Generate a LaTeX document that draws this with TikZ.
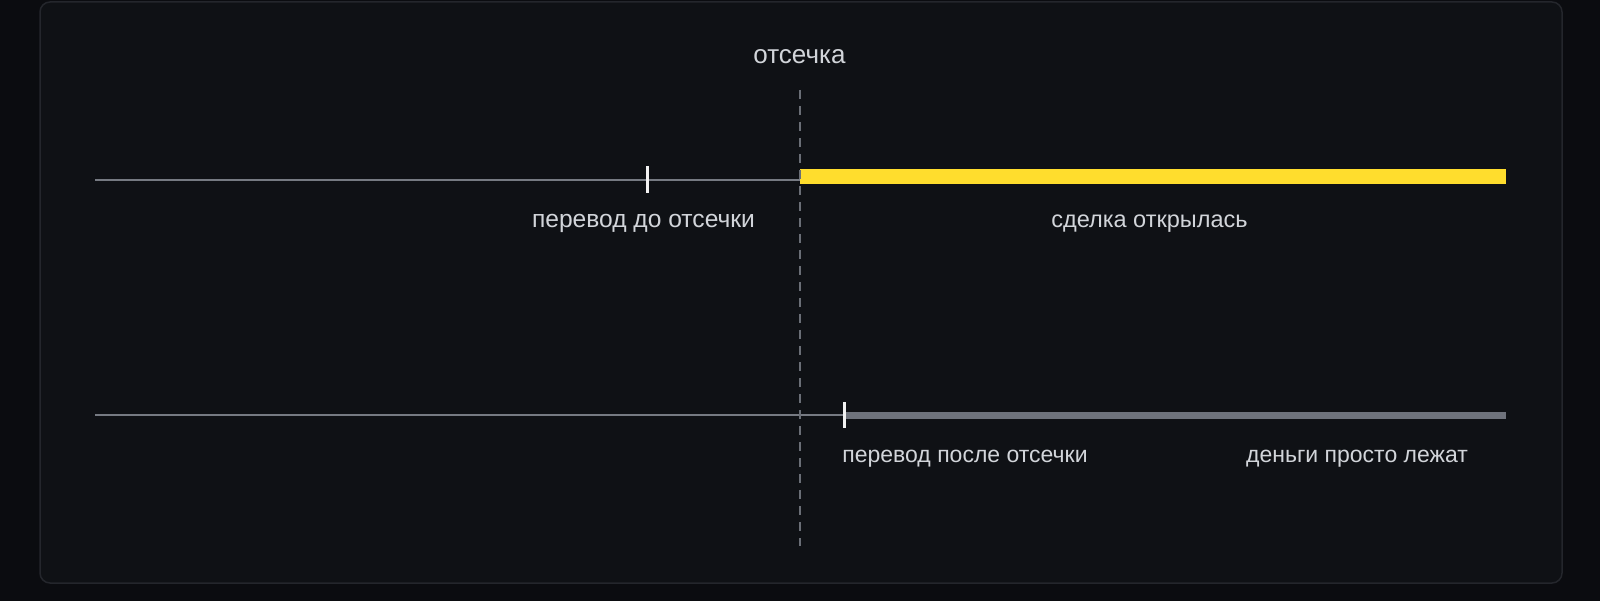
\documentclass[tikz,border=0pt]{standalone}
\usepackage{fontspec}
\setmainfont{Liberation Sans}
\definecolor{outerbg}{HTML}{0B0C10}
\definecolor{panelbg}{HTML}{0F1115}
\definecolor{panelborder}{HTML}{24262C}
\definecolor{txt}{HTML}{D2D5DA}
\definecolor{thin}{HTML}{767A82}
\definecolor{thickgray}{HTML}{6F737C}
\definecolor{dealyellow}{HTML}{FFDD2D}
\definecolor{tickc}{HTML}{F2F2F2}
\definecolor{dashc}{HTML}{6A6E76}
\tikzset{
  lbl/.style={anchor=base, text=txt, inner sep=0pt, font=\fontsize{24}{28}\selectfont},
  thinline/.style={draw=thin, line width=2pt},
  dealbar/.style={draw=dealyellow, line width=15pt},
  idlebar/.style={draw=thickgray, line width=7pt},
  tickmark/.style={draw=tickc, line width=3pt},
  cutline/.style={draw=dashc, line width=1.8pt, dash pattern=on 9pt off 7pt}
}
\begin{document}
\begin{tikzpicture}[x=1pt,y=-1pt]
  \fill[outerbg] (0,0) rectangle (1600,601);
  \useasboundingbox (0,0) rectangle (1600,601);
  \draw[panelborder, fill=panelbg, line width=1.5pt, rounded corners=10pt] (40,2) rectangle (1562,583);

  % coordinates
  \coordinate (cuttop) at (800,90);
  \coordinate (cutbot) at (800,546);
  \coordinate (l1start) at (95,180);
  \coordinate (l1cut) at (800,180);
  \coordinate (l1end) at (1506,176.7);
  \coordinate (l1cutbar) at (800,176.7);
  \coordinate (l2start) at (95,415);
  \coordinate (l2tick) at (844,415);
  \coordinate (l2end) at (1506,415.5);
  \coordinate (l2tickbar) at (844,415.5);
  \coordinate (t1a) at (647,166);
  \coordinate (t1b) at (647,193);
  \coordinate (t2a) at (844,402);
  \coordinate (t2b) at (844,428);

  % top timeline
  \draw[thinline] (l1start) -- (l1cut);
  \draw[dealbar] (l1cutbar) -- (l1end);
  \draw[tickmark] (t1a) -- (t1b);

  % bottom timeline
  \draw[thinline] (l2start) -- (l2tick);
  \draw[idlebar] (l2tickbar) -- (l2end);
  \draw[tickmark] (t2a) -- (t2b);

  % cutoff
  \draw[cutline] (cuttop) -- (cutbot);

  % labels
  \node[lbl, font=\fontsize{26}{30}\selectfont] (cut) at (799.5,63.5) {отсечка};
  \node[lbl, font=\fontsize{24.6}{28}\selectfont] (before) at (643.5,227.3) {перевод до отсечки};
  \node[lbl, font=\fontsize{23.5}{28}\selectfont] (deal) at (1149.5,227.3) {сделка открылась};
  \node[lbl, font=\fontsize{23}{28}\selectfont] (after) at (965,462) {перевод после отсечки};
  \node[lbl, font=\fontsize{23}{28}\selectfont] (idle) at (1357,462) {деньги просто лежат};
\end{tikzpicture}
\end{document}
